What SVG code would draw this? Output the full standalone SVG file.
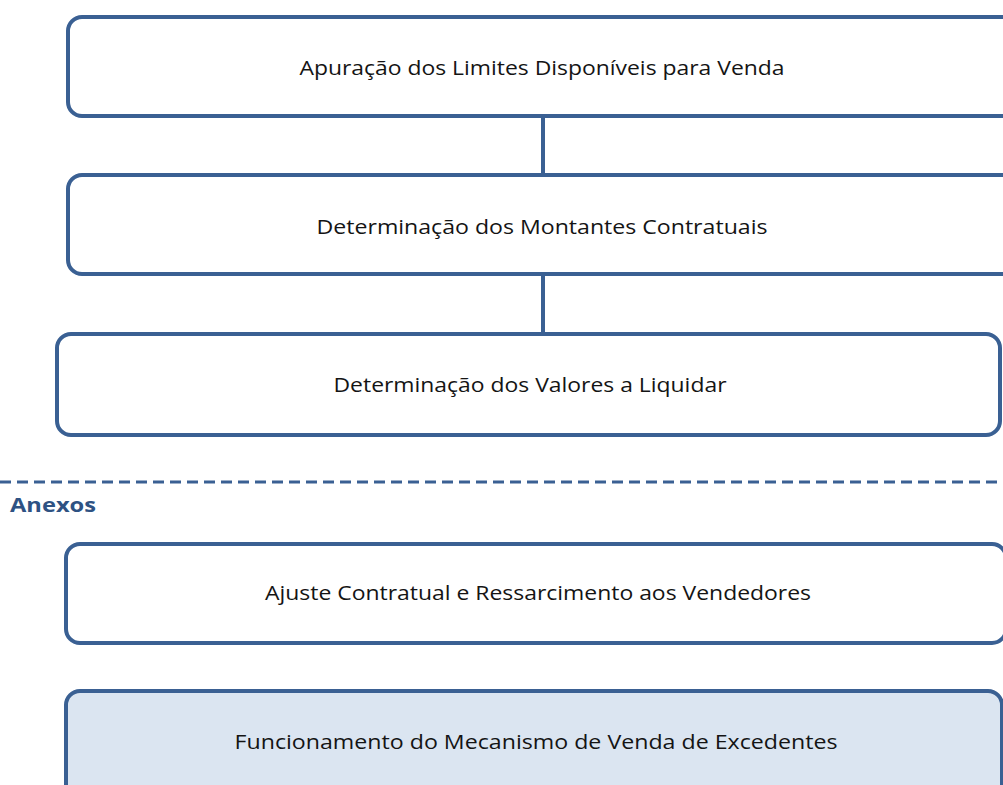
<svg xmlns="http://www.w3.org/2000/svg" width="1003" height="785" viewBox="0 0 1003 785">
<style>
.box{fill:#ffffff;stroke:#3a6093;stroke-width:4}
.hl{fill:#dbe5f1}
.lbl{font-family:"Open Sans","Noto Sans","Liberation Sans",sans-serif;font-size:20px;fill:#141414;text-anchor:middle}
.conn{stroke:#3a6093;stroke-width:4;fill:none}
.sep{stroke:#3a6093;stroke-width:3;stroke-dasharray:11 6;fill:none}
.anexos{font-family:"Open Sans","Noto Sans","Liberation Sans",sans-serif;font-size:19px;font-weight:bold;fill:#2e5283}
</style>
<rect width="1003" height="785" fill="#ffffff"/>
<g id="connectors">
<line class="conn" x1="543" y1="117" x2="543" y2="175"/>
<line class="conn" x1="543" y1="274" x2="543" y2="334"/>
</g>
<g id="node1">
<rect class="box" x="68" y="17" width="970" height="99" rx="14"/>
<text class="lbl" x="542" y="75" textLength="485" lengthAdjust="spacingAndGlyphs">Apuração dos Limites Disponíveis para Venda</text>
</g>
<g id="node2">
<rect class="box" x="68" y="175" width="970" height="99" rx="14"/>
<text class="lbl" x="542" y="234" textLength="451" lengthAdjust="spacingAndGlyphs">Determinação dos Montantes Contratuais</text>
</g>
<g id="node3">
<rect class="box" x="57" y="334" width="943" height="101" rx="14"/>
<text class="lbl" x="530" y="392" textLength="393" lengthAdjust="spacingAndGlyphs">Determinação dos Valores a Liquidar</text>
</g>
<g id="separator">
<line class="sep" x1="0" y1="482" x2="1003" y2="482"/>
<text class="anexos" x="10" y="512" textLength="86" lengthAdjust="spacingAndGlyphs">Anexos</text>
</g>
<g id="node4">
<rect class="box" x="66" y="544" width="940" height="99" rx="14"/>
<text class="lbl" x="538" y="600" textLength="546" lengthAdjust="spacingAndGlyphs">Ajuste Contratual e Ressarcimento aos Vendedores</text>
</g>
<g id="node5">
<rect class="box hl" x="66" y="691" width="936" height="120" rx="14"/>
<text class="lbl" x="536" y="749" textLength="603" lengthAdjust="spacingAndGlyphs">Funcionamento do Mecanismo de Venda de Excedentes</text>
</g>
</svg>
